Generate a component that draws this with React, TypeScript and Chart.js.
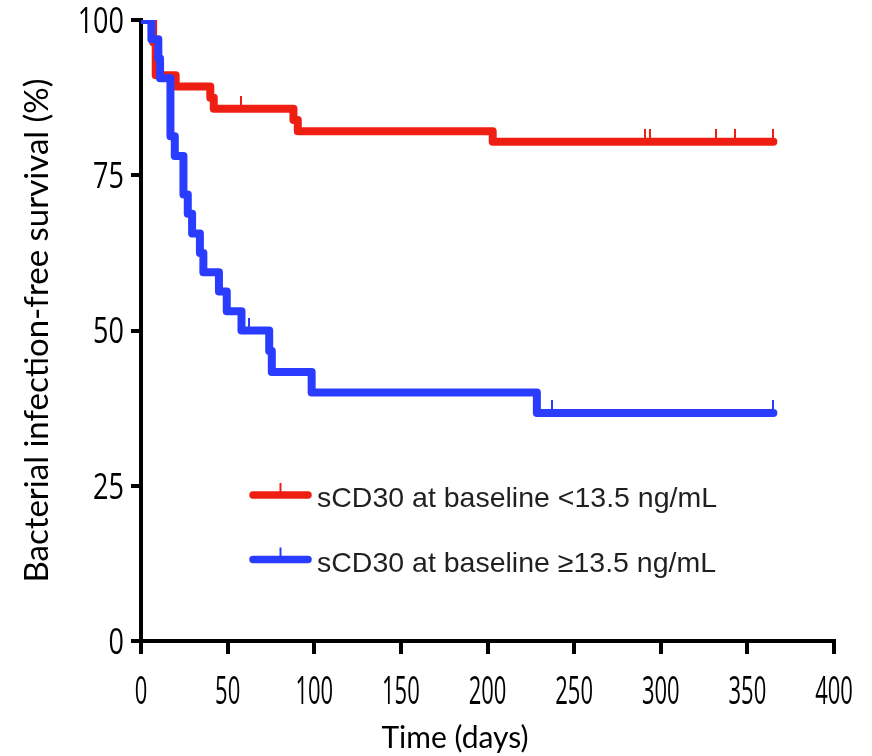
import React, { useEffect, useRef } from 'react';
import { Chart, registerables } from 'chart.js';

Chart.register(...registerables);

const redLabel = 'sCD30 at baseline <13.5 ng/mL';
const blueLabel = 'sCD30 at baseline \u226513.5 ng/mL';

const redDays = [0, 7, 8.5, 20, 40, 42, 88, 90.5, 203, 365];
const redSurvival = [100, 96.4, 91.1, 89.3, 87.5, 85.7, 83.9, 82.1, 80.4, 80.4];
const redCensorDays = [4, 58, 291, 294, 332, 343, 365];

const blueDays = [0, 6, 10, 11, 17, 19.5, 24.5, 27, 29.5, 34, 36, 45, 49.5, 58, 74, 75.5, 98.5, 228.5, 365];
const blueSurvival = [100, 96.9, 93.8, 90.6, 81.3, 78.1, 71.9, 68.8, 65.6, 62.5, 59.4, 56.3, 53.1, 50.0, 46.7, 43.3, 40.0, 36.7, 36.7];
const blueCensorDays = [62.5, 237.5, 365];

const xTickValues = [0, 50, 100, 150, 200, 250, 300, 350, 400];
const yTickValues = [0, 25, 50, 75, 100];

const xTitle = 'Time (days)';
const yTitle = 'Bacterial infection-free survival (%)';

const RED = '#ee1f12';
const BLUE = '#2a3cff';

function survivalAt(days: number[], surv: number[], t: number) {
  let v = surv[0];
  for (let i = 0; i < days.length; i++) if (days[i] <= t) v = surv[i];
  return v;
}

function censorMark(color: string) {
  const c = document.createElement('canvas');
  c.width = 2;
  c.height = 26;
  const g = c.getContext('2d')!;
  g.fillStyle = color;
  g.fillRect(0, 0, 2, 13);
  return c;
}

const TICK_FONT = "'Open Sans', 'Noto Sans', sans-serif";

const decorPlugin = {
  id: 'kmDecor',
  afterDraw(chart: any) {
    const { ctx, chartArea } = chart;
    const { left, top } = chartArea;
    const xs = chart.scales.x;
    const ys = chart.scales.y;
    ctx.save();

    // tick labels (drawn at the scales' own tick positions, vertically stretched like the figure)
    ctx.fillStyle = '#000';
    const ySize = 27;
    const yStretch = 1.33;
    ctx.font = `${ySize}px ${TICK_FONT}`;
    ctx.textAlign = 'right';
    ctx.textBaseline = 'alphabetic';
    ys.ticks.forEach((t: any) => {
      const py = ys.getPixelForValue(t.value);
      ctx.save();
      ctx.translate(ys.right - 17, py);
      ctx.scale(1, yStretch);
      ctx.fillText(String(t.value), 0, 0.36 * ySize);
      ctx.restore();
    });
    const xSize = 22;
    const xStretch = 1.7;
    ctx.font = `${xSize}px ${TICK_FONT}`;
    ctx.textAlign = 'center';
    xs.ticks.forEach((t: any) => {
      const px = xs.getPixelForValue(t.value);
      ctx.save();
      ctx.translate(px, xs.top + 50);
      ctx.scale(1, xStretch);
      ctx.fillText(String(t.value), 0, 0.36 * xSize);
      ctx.restore();
    });

    // x-axis title
    ctx.font = "30px Lato, 'Open Sans', sans-serif";
    ctx.fillStyle = '#000';
    ctx.textAlign = 'center';
    ctx.textBaseline = 'middle';
    ctx.fillText(xTitle, left + 314, 738);

    // legend
    const items = chart.data.datasets.filter((d: any) => d.isCurve);
    items.sort((a: any, b: any) => a.legendIndex - b.legendIndex);
    items.forEach((d: any, i: number) => {
      const y = top + 475 + i * 64.5;
      const x0 = left + 112;
      const x1 = left + 167;
      ctx.strokeStyle = d.borderColor;
      ctx.lineWidth = 7.5;
      ctx.lineCap = 'round';
      ctx.beginPath();
      ctx.moveTo(x0, y);
      ctx.lineTo(x1, y);
      ctx.stroke();
      ctx.fillStyle = d.borderColor;
      ctx.fillRect((x0 + x1) / 2 - 1, y - 12, 2, 12);
      ctx.fillStyle = '#231f20';
      ctx.font = "28.5px 'Liberation Sans', Arial, sans-serif";
      ctx.textAlign = 'left';
      ctx.textBaseline = 'alphabetic';
      ctx.fillText(d.label, left + 176, y + 12);
    });
    ctx.restore();
  },
};

export default function App() {
  const ref = useRef<HTMLCanvasElement | null>(null);

  useEffect(() => {
    if (!ref.current) return;
    const redPts = redDays.map((d, i) => ({ x: d, y: redSurvival[i] }));
    const bluePts = blueDays.map((d, i) => ({ x: d, y: blueSurvival[i] }));
    const redCens = redCensorDays.map((d) => ({ x: d, y: survivalAt(redDays, redSurvival, d) }));
    const blueCens = blueCensorDays.map((d) => ({ x: d, y: survivalAt(blueDays, blueSurvival, d) }));

    const curve = (label: string, data: any[], color: string, order: number, legendIndex: number) =>
      ({
        label,
        data,
        borderColor: color,
        backgroundColor: color,
        borderWidth: 8,
        stepped: 'before',
        pointRadius: 0,
        borderCapStyle: 'round',
        borderJoinStyle: 'round',
        fill: false,
        order,
        isCurve: true,
        legendIndex,
      }) as any;

    const censors = (label: string, data: any[], color: string, order: number) =>
      ({
        label,
        data,
        showLine: false,
        pointStyle: censorMark(color),
        pointRadius: 6,
        borderColor: color,
        backgroundColor: color,
        order,
      }) as any;

    const chart = new Chart(ref.current, {
      type: 'line',
      data: {
        datasets: [
          curve(redLabel, redPts, RED, 3, 0),
          curve(blueLabel, bluePts, BLUE, 2, 1),
          censors('red censored', redCens, RED, 1),
          censors('blue censored', blueCens, BLUE, 0),
        ],
      },
      options: {
        animation: false,
        responsive: true,
        maintainAspectRatio: false,
        devicePixelRatio: 1,
        layout: { padding: { left: 0, right: 38, top: 20, bottom: 0 } },
        plugins: { legend: { display: false }, tooltip: { enabled: false } },
        scales: {
          x: {
            type: 'linear',
            min: 0,
            max: 400,
            afterFit: (s: any) => {
              s.height = 115;
              s.paddingLeft = 0;
              s.paddingRight = 0;
            },
            afterBuildTicks: (s: any) => {
              s.ticks = xTickValues.map((v) => ({ value: v }));
            },
            ticks: { display: false },
            grid: {
              display: true,
              drawOnChartArea: false,
              drawTicks: true,
              tickLength: 13,
              color: '#000',
              lineWidth: 4,
            },
            border: { display: true, color: '#000', width: 4 },
          },
          y: {
            min: 0,
            max: 100,
            afterFit: (s: any) => {
              s.width = 141;
              s.paddingTop = 0;
              s.paddingBottom = 0;
            },
            afterBuildTicks: (s: any) => {
              s.ticks = yTickValues.map((v) => ({ value: v }));
            },
            ticks: { display: false },
            grid: {
              display: true,
              drawOnChartArea: false,
              drawTicks: true,
              tickLength: 10,
              color: '#000',
              lineWidth: 4,
            },
            border: { display: true, color: '#000', width: 4 },
            title: {
              display: true,
              text: yTitle,
              color: '#000',
              font: { family: "Lato, 'Open Sans', sans-serif", size: 33 },
              padding: { top: 18, bottom: 0 },
            },
          },
        },
      },
      plugins: [decorPlugin],
    });
    return () => chart.destroy();
  }, []);

  return (
    <div style={{ position: 'absolute', left: 0, top: 0, width: 872, height: 756 }}>
      <canvas ref={ref} />
    </div>
  );
}
